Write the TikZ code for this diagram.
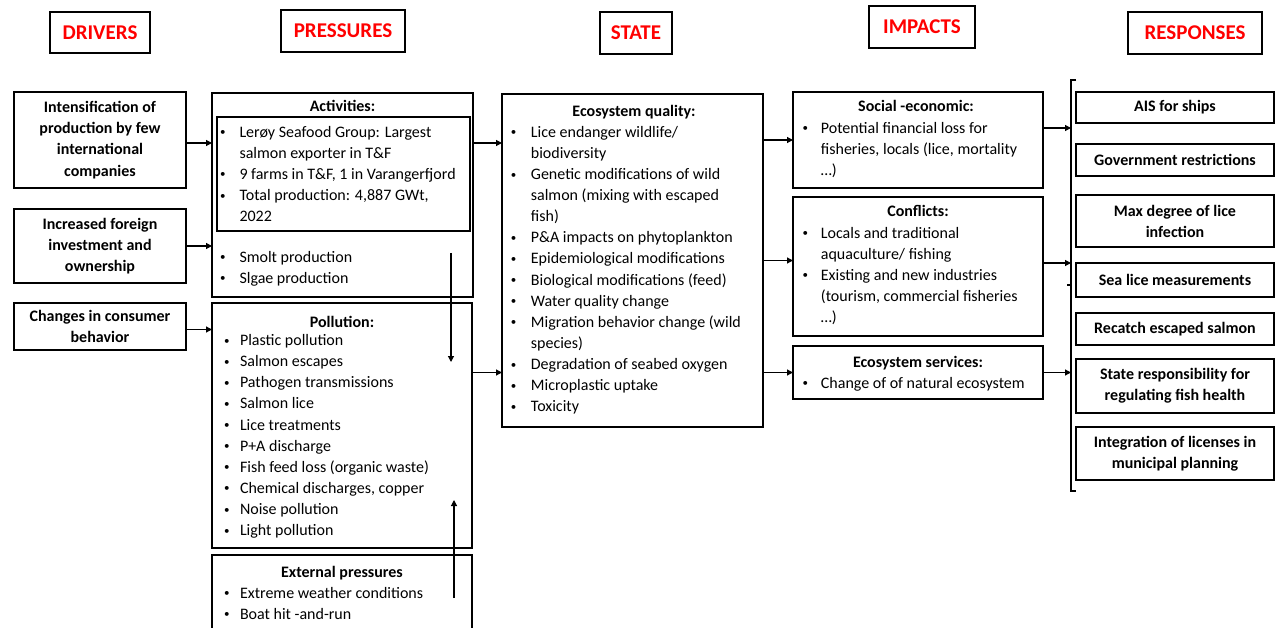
\documentclass[tikz,border=0pt]{standalone}
\usepackage{fontspec}
\setmainfont{Carlito}
\usetikzlibrary{arrows.meta,calc}
% bullet item / continuation line with indent \bwd
\newcommand\bwd{17pt}
\newcommand\smallbullet{\hspace*{1.3pt}\raisebox{1.4pt}{\fontsize{11}{11}\selectfont\textbullet}}
\newcommand\bi[1]{\makebox[\bwd][l]{\smallbullet}#1}
\newcommand\ci[1]{\hspace*{\bwd}#1}
\begin{document}
\begin{tikzpicture}[x=1pt,y=-1pt,
  box/.style={draw=black,line width=1.4pt,inner sep=0pt,outer sep=0pt,anchor=north west},
  head/.style={box,line width=1.5pt,font=\fontsize{21}{25}\selectfont\bfseries,text=red},
  cbox/.style={box,align=center,font=\fontsize{16}{21.1}\selectfont\bfseries},
  ttl/.style={anchor=base,inner sep=0pt,font=\fontsize{16}{21.1}\selectfont\bfseries},
  lst/.style={anchor=north west,inner sep=0pt,align=left,font=\fontsize{16}{21.1}\selectfont},
  bw/.code={\gdef\bwd{#1}},
  arr/.style={line width=1.2pt,-{Triangle[length=6pt,width=6pt]}},
  link/.style={line width=1.4pt}
]
\useasboundingbox (0,0) rectangle (1282,628);
\fill[white] (0,0) rectangle (1282,628);
\clip (0,0) rectangle (1282,628);

% column headers
\node[head,minimum width=100pt,minimum height=41pt] (hd) at (50,12) {DRIVERS};
\node[head,minimum width=124pt,minimum height=42pt] (hp) at (281,10) {PRESSURES};
\node[head,minimum width=72pt,minimum height=42pt] (hs) at (600,12) {STATE};
\node[head,minimum width=106pt,minimum height=42pt] (hi) at (869,6) {IMPACTS};
\node[head,minimum width=134pt,minimum height=42pt] (hr) at (1128,12) {RESPONSES};

% drivers
\node[cbox,minimum width=172pt,minimum height=96pt] (d1) at (14,92) {Intensification of\\production by few\\international\\companies};
\node[cbox,minimum width=172pt,minimum height=74pt] (d2) at (14,209) {Increased foreign\\investment and\\ownership};
\node[cbox,minimum width=172pt,minimum height=47pt] (d3) at (14,303) {Changes in consumer\\behavior};

% pressures
\node[box,minimum width=261pt,minimum height=204pt] (act) at (212,93) {};
\node[box,minimum width=253pt,minimum height=114pt] (actin) at (217,117) {};
\node[ttl] (actt) at (342.5,112) {Activities:};
\node[lst,bw=20.6pt] (actl) at (218.7,122.2) {\strut\bi{Lerøy Seafood Group: Largest}\\\ci{salmon exporter in T\&F}\\\bi{9 farms in T\&F, 1 in Varangerfjord}\\\bi{Total production: 4,887 GWt,}\\\ci{2022}};
\node[lst,bw=20.6pt] (actl2) at (218.7,247.2) {\strut\bi{Smolt production}\\\bi{Slgae production}};

\node[box,minimum width=260pt,minimum height=245pt] (pol) at (212,303) {};
\node[ttl] (polt) at (342,327) {Pollution:};
\node[lst,bw=17.3pt] (poll) at (222.5,330.7) {\strut\bi{Plastic pollution}\\\bi{Salmon escapes}\\\bi{Pathogen transmissions}\\\bi{Salmon lice}\\\bi{Lice treatments}\\\bi{P+A discharge}\\\bi{Fish feed loss (organic waste)}\\\bi{Chemical discharges, copper}\\\bi{Noise pollution}\\\bi{Light pollution}};

\node[box,minimum width=260pt,minimum height=90pt] (ext) at (212,555) {};
\node[ttl] (extt) at (342,577) {External pressures};
\node[lst,bw=17.3pt] (extl) at (222.5,583.2) {\strut\bi{Extreme weather conditions}\\\bi{Boat hit -and-run}};

% state
\node[box,minimum width=261pt,minimum height=333pt] (state) at (502,94) {};
\node[ttl] (statet) at (634,117) {Ecosystem quality:};
\node[lst,bw=21.4pt] (statel) at (509.3,122.4) {\strut\bi{Lice endanger wildlife/}\\\ci{biodiversity}\\\bi{Genetic modifications of wild}\\\ci{salmon (mixing with escaped}\\\ci{fish)}\\\bi{P\&A impacts on phytoplankton}\\\bi{Epidemiological modifications}\\\bi{Biological modifications (feed)}\\\bi{Water quality change}\\\bi{Migration behavior change (wild}\\\ci{species)}\\\bi{Degradation of seabed oxygen}\\\bi{Microplastic uptake}\\\bi{Toxicity}};

% impacts
\node[box,minimum width=250pt,minimum height=96pt] (imp1) at (793,92) {};
\node[ttl] (imp1t) at (916,112) {Social -economic:};
\node[lst,bw=19.7pt] (imp1l) at (801,118.2) {\strut\bi{Potential financial loss for}\\\ci{fisheries, locals (lice, mortality}\\\ci{…)}};

\node[box,minimum width=250pt,minimum height=139pt] (imp2) at (793,197) {};
\node[ttl] (imp2t) at (918,217) {Conflicts:};
\node[lst,bw=19.7pt] (imp2l) at (801,223.2) {\strut\bi{Locals and traditional}\\\ci{aquaculture/ fishing}\\\bi{Existing and new industries}\\\ci{(tourism, commercial fisheries}\\\ci{…)}};

\node[box,minimum width=250pt,minimum height=53pt] (imp3) at (793,346) {};
\node[ttl] (imp3t) at (918,367) {Ecosystem services:};
\node[lst,bw=19.7pt] (imp3l) at (801,373.2) {\strut\bi{Change of of natural ecosystem}};

% responses
\node[cbox,minimum width=198pt,minimum height=31pt] (r1) at (1076,92) {AIS for ships};
\node[cbox,minimum width=198pt,minimum height=32pt] (r2) at (1076,144) {Government restrictions};
\node[cbox,minimum width=198pt,minimum height=52pt] (r3) at (1076,195) {Max degree of lice\\infection};
\node[cbox,minimum width=198pt,minimum height=34pt] (r4) at (1076,263) {Sea lice measurements};
\node[cbox,minimum width=198pt,minimum height=32pt] (r5) at (1076,313) {Recatch escaped salmon};
\node[cbox,minimum width=198pt,minimum height=54pt] (r6) at (1076,359) {State responsibility for\\regulating fish health};
\node[cbox,minimum width=198pt,minimum height=53pt] (r7) at (1076,427) {Integration of licenses in\\municipal planning};

% bracket gathering the responses
\coordinate (brt) at (1071,80);
\coordinate (brb) at (1071,491);
\coordinate (brm) at (1071,285);
\draw[link] ($(brt)+(5,0)$) -- (brt) -- (brb) -- ($(brb)+(5,0)$);
\draw[link] (brm) -- ($(brm)+(-4,0)$);

% drivers -> pressures
\coordinate (a1) at ($(d1.east)+(0,3)$);
\draw[arr] (a1) -- (a1 -| act.west);
\draw[arr] (d2.east) -- (d2.east -| act.west);
\coordinate (a3) at ($(d3.east)+(0,3)$);
\draw[arr] (a3) -- (a3 -| pol.west);

% pressures -> state
\draw[arr] (act.east |- a1) -- (state.west |- a1);
\draw[arr] (pol.east |- imp3.west) -- (state.west |- imp3.west);

% links inside the pressures column
\coordinate (v1s) at (451,253);
\coordinate (v1e) at (451,362);
\coordinate (v2s) at (454,598);
\coordinate (v2e) at (454,500);
\draw[arr] (v1s) -- (v1e);
\draw[arr] (v2s) -- (v2e);

% state -> impacts
\coordinate (i2in) at ($(imp2.west)+(0,-6)$);
\draw[arr] (state.east |- imp1.west) -- (imp1.west);
\draw[arr] (state.east |- i2in) -- (i2in);
\draw[arr] (state.east |- imp3.west) -- (imp3.west);

% impacts -> responses
\coordinate (o1) at ($(imp1.east)+(0,-12)$);
\coordinate (o2) at ($(imp2.east)+(0,-3.5)$);
\draw[arr] (o1) -- (o1 -| brt);
\draw[arr] (o2) -- (o2 -| brt);
\draw[arr] (imp3.east) -- (imp3.east -| brt);
\end{tikzpicture}
\end{document}
